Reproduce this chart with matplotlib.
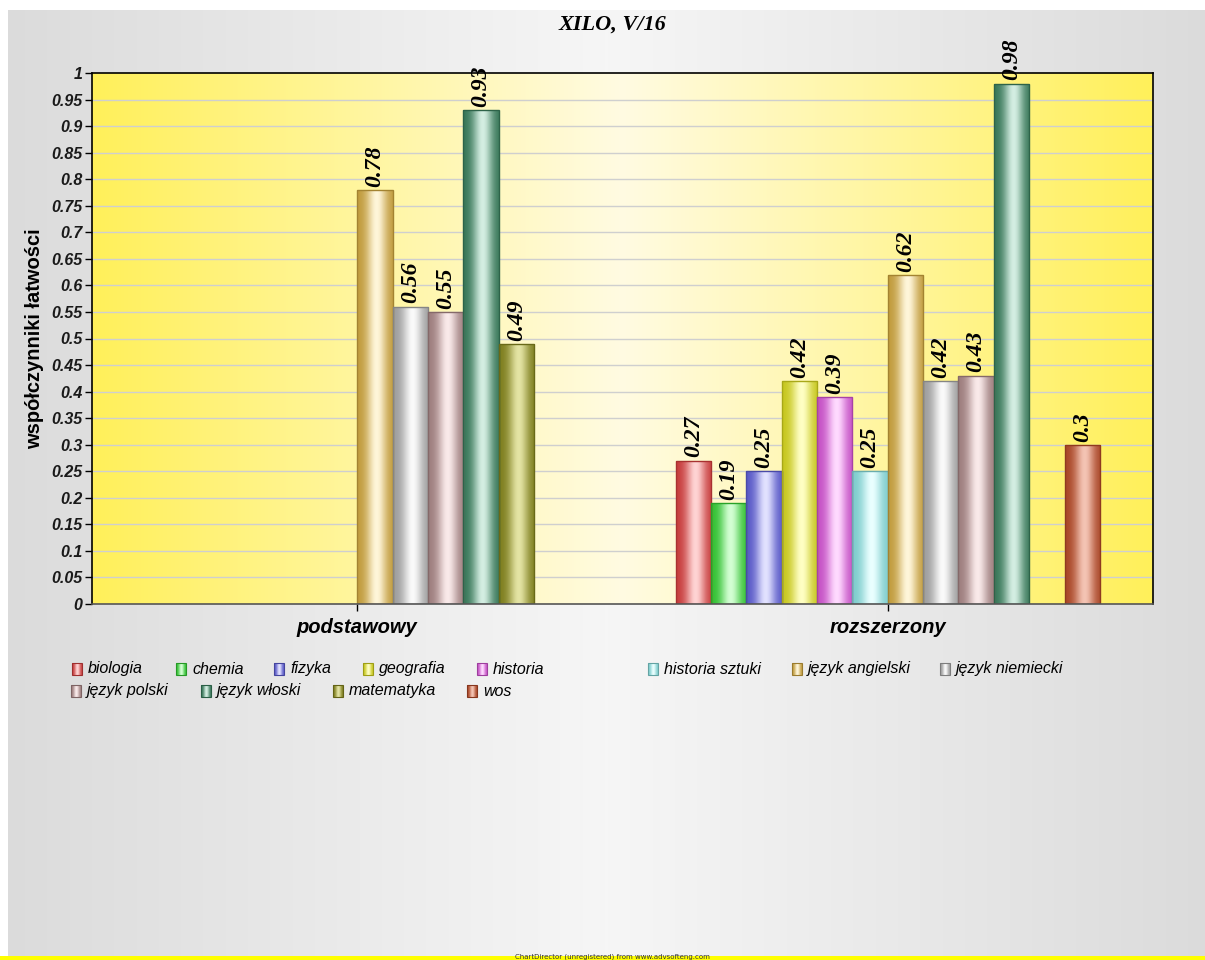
import numpy as np
import matplotlib
matplotlib.use("Agg")
import matplotlib.pyplot as plt
from matplotlib.colors import to_rgb
from matplotlib.patches import Rectangle

# ---------------- data ----------------
categories = ["podstawowy", "rozszerzony"]
series = ["biologia", "chemia", "fizyka", "geografia", "historia", "historia sztuki",
          "język angielski", "język niemiecki", "język polski", "język włoski",
          "matematyka", "wos"]
val_podstawowy = [np.nan, np.nan, np.nan, np.nan, np.nan, np.nan,
                  0.78, 0.56, 0.55, 0.93, 0.49, np.nan]
val_rozszerzony = [0.27, 0.19, 0.25, 0.42, 0.39, 0.25,
                   0.62, 0.42, 0.43, 0.98, np.nan, 0.30]
title = "XILO, V/16"
ylabel = "współczynniki łatwości"

# ---------------- styles ----------------
edge_colors = ["#c63a3a", "#2fbf2f", "#5656c6", "#c6c61c", "#c44ec4", "#7ccccc",
               "#c09a3a", "#9c9c9c", "#9c7c7c", "#357556", "#7c7c1c", "#a84424"]
mid_colors = ["#ffd4d4", "#d4ffd4", "#e2e2ff", "#ffffc4", "#ffdaff", "#eaffff",
              "#fff6da", "#fafafa", "#faeaea", "#d4eee2", "#e4e4a4", "#f4c4b4"]

W, H, DPI = 1205, 960, 100
fig = plt.figure(figsize=(W / DPI, H / DPI), dpi=DPI)

# background
bg = fig.add_axes([0, 0, 1, 1], zorder=-10)
bg.set_axis_off()
xs = np.linspace(0, 1, 400)
prof = 1 - np.abs(2 * xs - 1)
g = 0.86 + (0.965 - 0.86) * prof
img = np.ones((1, 400, 3)) * g[None, :, None]
bg.imshow(img, extent=[8, W, 0, H - 10], aspect="auto", interpolation="bilinear", zorder=0)
bg.add_patch(Rectangle((0, 0), W, 4, color="#ffff00", lw=0, zorder=5))
bg.text(612, 0.0, "ChartDirector (unregistered) from www.advsofteng.com",
        fontsize=5, ha="center", va="bottom", color="#333333", zorder=6)

# main axes
L, R, T, B = 92, 1153, 73, 604
ax = fig.add_axes([L / W, 1 - B / H, (R - L) / W, (B - T) / H])
ax.set_facecolor("none")

# plot area gradient
edge_y = np.array(to_rgb("#fff05a"))
mid_y = np.array(to_rgb("#fffbe2"))
p = (1 - np.abs(2 * xs - 1))
pa = edge_y[None, :] + (mid_y - edge_y)[None, :] * p[:, None]
ax.imshow(pa[None, :, :], extent=[-0.5, 1.5, 0, 1], aspect="auto",
          interpolation="bilinear", zorder=0)

yt = np.round(np.arange(0, 1.0001, 0.05), 2)
for v in yt[1:-1]:
    ax.axhline(v, color="#cfcfcf", lw=1.0, zorder=1)

n = len(series)
bw = 0.8 / n
x = np.arange(len(categories))
values = np.array([val_podstawowy, val_rozszerzony])  # shape (cat, series)

tt = np.linspace(0, 1, 64)
shade = np.exp(-((tt - 0.55) / 0.28) ** 2)

for i, s in enumerate(series):
    pos = x - 0.4 + bw * (i + 0.5)
    heights = values[:, i]
    ec = np.array(to_rgb(edge_colors[i]))
    mc = np.array(to_rgb(mid_colors[i]))
    grad = ec[None, :] + (mc - ec)[None, :] * shade[:, None]
    outline = tuple(ec * 0.85)
    bars = ax.bar(pos, heights, width=bw, facecolor="none", edgecolor=outline,
                  lw=1.0, zorder=3)
    for rect, h in zip(bars, heights):
        if np.isnan(h):
            continue
        x0, w = rect.get_x(), rect.get_width()
        im = ax.imshow(grad[None, :, :], extent=[x0, x0 + w, 0, h], aspect="auto",
                       interpolation="bilinear", zorder=2)
        im.set_clip_path(rect)
        ax.text(x0 + w / 2, h + 0.006, f"{h:g}", rotation=90, ha="center", va="bottom",
                fontsize=17, fontweight="bold", fontstyle="italic",
                family="Liberation Serif", color="black", zorder=5, clip_on=False)

ax.set_xlim(-0.5, 1.5)
ax.set_ylim(0, 1)
ax.set_yticks(yt)
ax.set_yticklabels([f"{v:.2f}".rstrip("0").rstrip(".") if v != 0 else "0" for v in yt],
                   fontsize=11.5, fontweight="bold", fontstyle="italic",
                   family="Liberation Sans", color="#1a1a1a")
ax.set_xticks(x)
ax.set_xticklabels(categories, fontsize=14.5, fontweight="bold", fontstyle="italic",
                   family="Liberation Sans")
ax.tick_params(axis="y", length=5, width=1, pad=2)
ax.tick_params(axis="x", length=5, width=1, pad=5)
for sp in ax.spines.values():
    sp.set_color("black")
    sp.set_linewidth(1.2)
    sp.set_zorder(6)
ax.spines["bottom"].set_color("#555555")

ax.set_ylabel(ylabel, fontsize=14.5, fontweight="bold", family="Liberation Sans")
ax.yaxis.set_label_coords(-0.045, 0.5)

fig.text(612 / W, 1 - 25 / H, title, ha="center", va="center", fontsize=16,
         fontweight="bold", fontstyle="italic", family="Liberation Serif")

# legend (flow layout positions in pixels)
leg_x = [72, 176, 274, 363, 477, 648, 792, 940, 71, 201, 333, 467]
leg_row = [0, 0, 0, 0, 0, 0, 0, 0, 1, 1, 1, 1]
row_y = [669, 691]
for i, s in enumerate(series):
    px, py = leg_x[i], row_y[leg_row[i]]
    ec = np.array(to_rgb(edge_colors[i]))
    mc = np.array(to_rgb(mid_colors[i]))
    grad = ec[None, :] + (mc - ec)[None, :] * shade[:, None]
    x0, x1 = px, px + 10
    y0, y1 = H - py - 6, H - py + 6
    bg.imshow(grad[None, :, :], extent=[x0, x1, y0, y1], aspect="auto",
              interpolation="bilinear", zorder=3)
    bg.add_patch(Rectangle((x0, y0), 10, 12, fill=False, edgecolor=tuple(ec * 0.8),
                           lw=0.8, zorder=4))
    bg.text(px + 16, H - py, s, fontsize=11.5, fontstyle="italic",
            family="Liberation Sans", va="center", ha="left", color="black")
bg.set_xlim(0, W)
bg.set_ylim(0, H)

fig.savefig("out.png", dpi=DPI, facecolor="white")
